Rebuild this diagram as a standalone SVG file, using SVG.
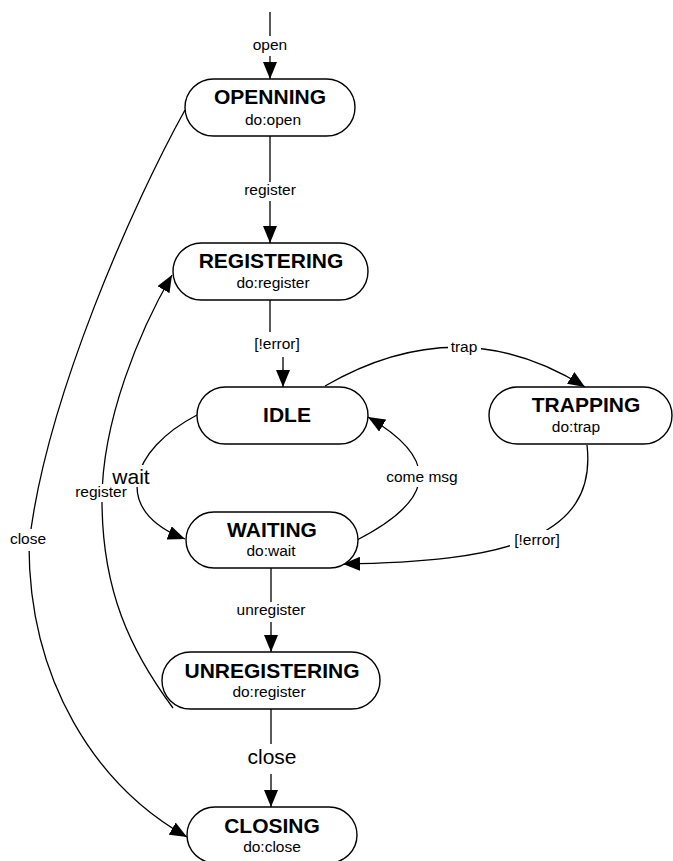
<svg xmlns="http://www.w3.org/2000/svg" width="673" height="861" viewBox="0 0 673 861">
  <style>
    .state rect { fill: #fff; stroke: #000; stroke-width: 1.4; }
    .title { font-family: "Liberation Sans", Arial, Helvetica, sans-serif; font-weight: bold; font-size: 21px; fill: #000; text-anchor: middle; }
    .sub { font-family: "Liberation Sans", Arial, Helvetica, sans-serif; font-size: 15.5px; fill: #000; text-anchor: middle; }
    .lbl { font-family: "Liberation Sans", Arial, Helvetica, sans-serif; font-size: 15.5px; fill: #000; text-anchor: middle; }
    .big { font-size: 21px; }
    .bg { fill: #fff; stroke: none; }
    .edge { fill: none; stroke: #000; stroke-width: 1.3; }
    .arrow { marker-end: url(#head); }
  </style>
  <defs>
    <marker id="head" markerUnits="userSpaceOnUse" markerWidth="18" markerHeight="14" refX="17" refY="7" orient="auto">
      <path d="M0,0 L17,7 L0,14 Z" fill="#000"/>
    </marker>
  </defs>

  <rect width="673" height="861" fill="#fff"/>

  <!-- transitions -->
  <g id="connectors">
    <path id="e-open" class="edge arrow" d="M270,12 L270,79"/>
    <path id="e-register" class="edge arrow" d="M270,136 L270,243"/>
    <path id="e-noerror-a" class="edge" d="M270,300 L270,332"/>
    <path id="e-noerror-b" class="edge arrow" d="M283,357 L283,387"/>
    <path id="e-trap" class="edge arrow" d="M325,386 Q460,308 585,387"/>
    <path id="e-wait" class="edge arrow" d="M197,415 C130,450 110,510 185,539"/>
    <path id="e-come" class="edge arrow" d="M357,540 C425,505 450,465 368,417"/>
    <path id="e-error" class="edge arrow" d="M587,445 C598,540 500,562 343,564"/>
    <path id="e-unregister" class="edge arrow" d="M271,568 L271,652"/>
    <path id="e-close" class="edge arrow" d="M271,709 L271,807"/>
    <path id="e-reregister" class="edge arrow" d="M173,708 C130,650 102,590 102,500 C102,420 140,330 172,275"/>
    <path id="e-closeall" class="edge arrow" d="M185,110 C135,200 45,400 29,545 C29,680 95,785 187,837"/>
  </g>

  <!-- transition labels -->
  <g id="labels">
    <rect class="bg" x="250" y="36" width="40" height="20"/>
    <text class="lbl" x="270" y="50">open</text>
    <rect class="bg" x="240" y="182" width="60" height="19"/>
    <text class="lbl" x="270" y="195">register</text>
    <text class="lbl" x="277" y="349">[!error]</text>
    <rect class="bg" x="448" y="339" width="33" height="18"/>
    <text class="lbl" x="464" y="352">trap</text>
    <rect class="bg" x="383" y="466" width="79" height="21"/>
    <text class="lbl" x="422" y="482">come msg</text>
    <rect class="bg" x="510" y="530" width="54" height="21"/>
    <text class="lbl" x="537" y="545">[!error]</text>
    <rect class="bg" x="110" y="465" width="42" height="22"/>
    <text class="lbl big" x="131" y="484">wait</text>
    <rect class="bg" x="72" y="484" width="64" height="18"/>
    <text class="lbl" x="101" y="497">register</text>
    <rect class="bg" x="8" y="529" width="40" height="22"/>
    <text class="lbl" x="28" y="544">close</text>
    <rect class="bg" x="233" y="602" width="76" height="20"/>
    <text class="lbl" x="271" y="615">unregister</text>
    <rect class="bg" x="245" y="744" width="55" height="30"/>
    <text class="lbl big" x="272" y="764">close</text>
  </g>

  <!-- states -->
  <g id="openning" class="state">
    <rect x="185" y="79" width="170" height="57" rx="28.5"/>
    <text class="title" x="270" y="104">OPENNING</text>
    <text class="sub" x="273" y="125">do:open</text>
  </g>
  <g id="registering" class="state">
    <rect x="173" y="243" width="195" height="57" rx="28.5"/>
    <text class="title" x="271" y="268">REGISTERING</text>
    <text class="sub" x="273" y="288">do:register</text>
  </g>
  <g id="idle" class="state">
    <rect x="197" y="387" width="171" height="57" rx="28.5"/>
    <text class="title" x="287" y="422">IDLE</text>
  </g>
  <g id="trapping" class="state">
    <rect x="489" y="387" width="183" height="57" rx="28.5"/>
    <text class="title" x="586" y="412">TRAPPING</text>
    <text class="sub" x="576" y="432">do:trap</text>
  </g>
  <g id="waiting" class="state">
    <rect x="186" y="512" width="172" height="56" rx="28"/>
    <text class="title" x="272" y="537">WAITING</text>
    <text class="sub" x="271" y="556">do:wait</text>
  </g>
  <g id="unregistering" class="state">
    <rect x="162" y="652" width="218" height="57" rx="28.5"/>
    <text class="title" x="272" y="678">UNREGISTERING</text>
    <text class="sub" x="269" y="697">do:register</text>
  </g>
  <g id="closing" class="state">
    <rect x="187" y="807" width="170" height="56" rx="28"/>
    <text class="title" x="272" y="833">CLOSING</text>
    <text class="sub" x="272" y="852">do:close</text>
  </g>
</svg>
